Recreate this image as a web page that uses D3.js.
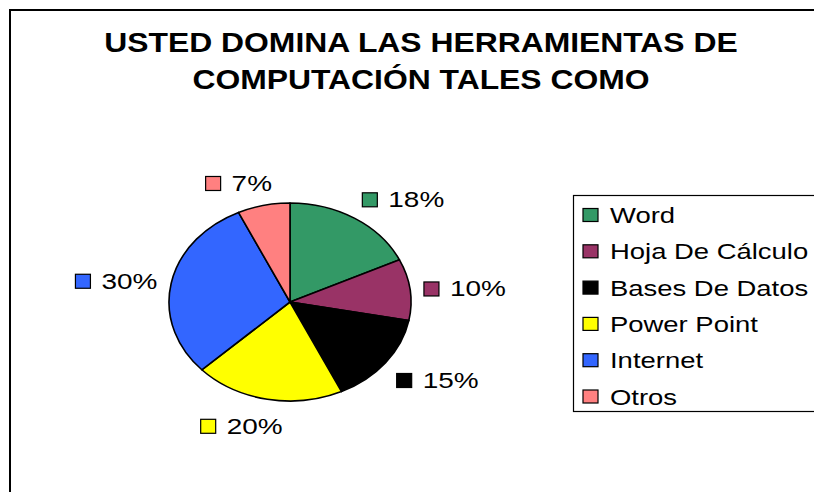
<!DOCTYPE html>
<html lang="es">
<head>
  <meta charset="UTF-8">
  <title>Usted domina las herramientas de computación</title>
  <script src="https://d3js.org/d3.v7.min.js"></script>
  <style>
    body {
      background: #ffffff;
      margin: 0;
      overflow: hidden;
    }
    text {
      font-family: Arial, 'Liberation Sans', Helvetica, sans-serif;
      fill: #000;
    }
    .title {
      font-size: 27px;
      font-weight: bold;
    }
    .legend text {
      font-size: 22.5px;
    }
    .label text {
      font-size: 21.5px;
    }
  </style>
</head>
<body>
  <script>
    var categories = ["Word", "Hoja De Cálculo", "Bases De Datos", "Power Point", "Internet", "Otros"];
    var values = [18, 10, 15, 20, 30, 7];
    var colors = ["#339966", "#993366", "#000000", "#ffff00", "#3366ff", "#ff8080"];
    var titleLines = ["USTED DOMINA LAS HERRAMIENTAS DE", "COMPUTACIÓN TALES COMO"];

    var width = 814, height = 492;
    // the source picture is stretched sideways, so the text is too
    var SX_TITLE = 1.18, SX_LEGEND = 1.22, SX_LABEL = 1.3;

    var svg = d3.select("body").append("svg")
      .attr("width", width)
      .attr("height", height);

    // chart frame (runs off right and bottom)
    svg.append("rect")
      .attr("x", 10)
      .attr("y", 10)
      .attr("width", 900)
      .attr("height", 600)
      .attr("fill", "#fff")
      .attr("stroke", "#000")
      .attr("stroke-width", 2);

    var title = svg.append("g").classed("title", true);
    titleLines.forEach(function(t, i) {
      title.append("text")
        .text(t)
        .attr("text-anchor", "middle")
        .attr("transform", "translate(421," + (52 + i * 37) + ") scale(" + SX_TITLE + ",1)");
    });

    // pie, drawn as a circle squashed into an ellipse
    var cx = 290, cy = 302, rx = 121, ry = 99;
    var color = d3.scaleOrdinal().domain(categories).range(colors);
    var pie = d3.pie().sort(null).value(function(d) { return d.value; });
    var data = categories.map(function(c, i) { return { name: c, value: values[i] }; });
    var arcs = pie(data);
    var total = d3.sum(values);
    var arc = d3.arc().innerRadius(0).outerRadius(rx);

    svg.append("g")
      .attr("transform", "translate(" + cx + "," + cy + ") scale(1," + (ry / rx) + ")")
      .selectAll("path")
      .data(arcs)
      .enter()
      .append("path")
      .attr("d", arc)
      .attr("fill", function(d) { return color(d.data.name); })
      .attr("stroke", "#000")
      .attr("stroke-width", 1.6)
      .attr("vector-effect", "non-scaling-stroke")
      .attr("stroke-linejoin", "round");

    // data labels: legend key + percent, outside the slice mid angle
    var fmt = d3.format(".0%");
    var label = svg.selectAll(".label")
      .data(arcs)
      .enter()
      .append("g")
      .classed("label", true);

    label.each(function(d) {
      var g = d3.select(this);
      var a = (d.startAngle + d.endAngle) / 2;
      var s = Math.sin(a), c = Math.cos(a);
      var px = cx + (rx + 14) * s;
      var yc = cy + 2.5 - (ry + 25) * c;

      var txt = g.append("text").text(fmt(d.data.value / total));
      var tw = txt.node().getComputedTextLength() * SX_LABEL;
      var w = 15 + 11 + tw;
      var k = Math.max(-1, Math.min(1, 3 * s));
      var x0 = px - w * (1 - k) / 2;

      g.append("rect")
        .attr("x", x0)
        .attr("y", yc - 7)
        .attr("width", 15)
        .attr("height", 14)
        .attr("fill", color(d.data.name))
        .attr("stroke", "#000")
        .attr("stroke-width", 1.2);

      txt.attr("transform", "translate(" + (x0 + 26) + "," + (yc + 7.5) + ") scale(" + SX_LABEL + ",1)");
    });

    // legend
    var legendY = d3.scalePoint().domain(categories).range([215, 396.5]);

    var legend = svg.append("g").classed("legend", true);
    legend.append("rect")
      .attr("x", 573.5)
      .attr("y", 195.5)
      .attr("width", 300)
      .attr("height", 216)
      .attr("fill", "#fff")
      .attr("stroke", "#000")
      .attr("stroke-width", 1.2);

    var item = legend.selectAll(".item")
      .data(categories)
      .enter()
      .append("g")
      .classed("item", true);

    item.append("rect")
      .attr("x", 583)
      .attr("y", function(d) { return legendY(d) - 6.5; })
      .attr("width", 15)
      .attr("height", 13)
      .attr("fill", function(d) { return color(d); })
      .attr("stroke", "#000")
      .attr("stroke-width", 1.2);

    item.append("text")
      .text(function(d) { return d; })
      .attr("transform", function(d) {
        return "translate(610," + (legendY(d) + 8) + ") scale(" + SX_LEGEND + ",1)";
      });
  </script>
</body>
</html>
